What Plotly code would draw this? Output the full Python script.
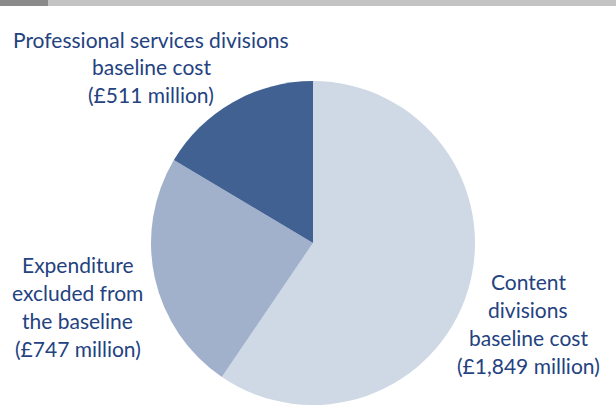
import plotly.graph_objects as go

categories = ["Content divisions baseline cost", "Expenditure excluded from the baseline",
              "Professional services divisions baseline cost"]
values = [1849, 747, 511]
colors = ["#cfd9e5", "#a1b1cb", "#416193"]

label_lines = [
    (["Content", "divisions", "baseline cost", "(£1,849 million)"], 528, 281),
    (["Expenditure", "excluded from", "the baseline", "(£747 million)"], 78, 264),
    (["Professional services divisions", "baseline cost", "(£511 million)"], 151, 39),
]

W, H = 616, 405
fig = go.Figure(go.Pie(
    labels=categories, values=values, sort=False, direction="clockwise", rotation=0,
    marker=dict(colors=colors, line=dict(width=0)), textinfo="none", hoverinfo="skip",
    domain=dict(x=[151 / W, 475 / W], y=[0, 324 / H]), showlegend=False,
))

LS = 28
for lines, cx, cy0 in label_lines:
    for i, t in enumerate(lines):
        fig.add_annotation(text=t, x=cx / W, y=1 - (cy0 + i * LS) / H, xref="paper", yref="paper",
                           showarrow=False, xanchor="center", yanchor="middle",
                           font=dict(family="Lato", size=21, color="#24427f"))

fig.add_shape(type="rect", xref="paper", yref="paper", x0=0, x1=1, y0=1 - 6 / H, y1=1,
              fillcolor="#c3c3c4", line=dict(width=0), layer="above")
fig.add_shape(type="rect", xref="paper", yref="paper", x0=0, x1=48 / W, y0=1 - 6 / H, y1=1,
              fillcolor="#8a8a8a", line=dict(width=0), layer="above")

fig.update_layout(width=W, height=H, margin=dict(l=0, r=0, t=0, b=0),
                  paper_bgcolor="white", plot_bgcolor="white")
fig.write_html("out.html")
